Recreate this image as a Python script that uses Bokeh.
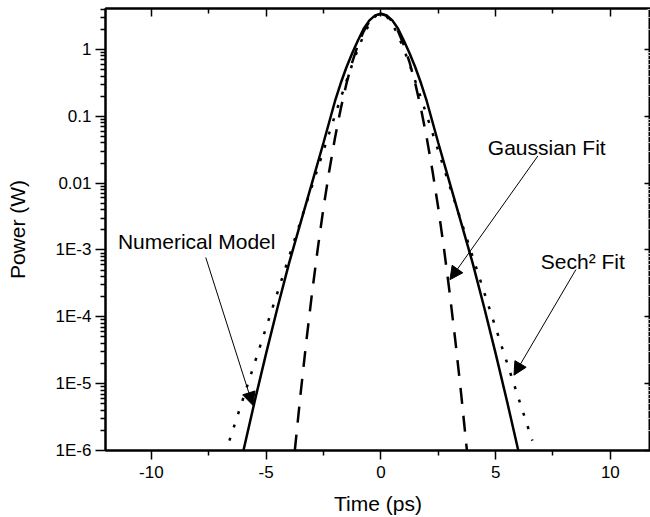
from bokeh.plotting import figure
from bokeh.models import (Range1d, LogAxis, LinearAxis, FixedTicker, CustomJSTickFormatter,
                          Label, Arrow, NormalHead, ColumnDataSource)
from bokeh.embed import file_html
from bokeh.resources import INLINE

# ---- data ----
model_t = [-6.0, -5.5, -5.0, -4.5, -4.0, -3.5, -3.0, -2.5, -2.0, -1.75, -1.5, -1.25, -1.0, -0.75, -0.5, -0.25,
           0.0, 0.25, 0.5, 0.75, 1.0, 1.25, 1.5, 1.75, 2.0, 2.5, 3.0, 3.5, 4.0, 4.5, 5.0, 5.5, 6.0]
model_p = [9.6e-7, 5.42e-6, 2.84e-5, 1.39e-4, 6.37e-4, 2.54e-3, 1.01e-2, 4.02e-2, 0.168, 0.312, 0.542, 0.879,
           1.36, 2.04, 2.72, 3.23, 3.42, 3.23, 2.72, 2.04, 1.36, 0.879, 0.542, 0.312, 0.168, 4.02e-2, 1.01e-2,
           2.54e-3, 6.37e-4, 1.39e-4, 2.84e-5, 5.42e-6, 9.6e-7]

gauss_t = [-3.75, -3.5, -3.25, -3.0, -2.75, -2.5, -2.25, -2.0, -1.75, -1.5, -1.25, -1.0, -0.75, -0.5, -0.25,
           0.0, 0.25, 0.5, 0.75, 1.0, 1.25, 1.5, 1.75, 2.0, 2.25, 2.5, 2.75, 3.0, 3.25, 3.5, 3.75]
gauss_p = [1.00e-6, 6.98e-6, 4.25e-5, 2.26e-4, 1.05e-3, 4.28e-3, 1.52e-2, 4.74e-2, 0.129, 0.308, 0.643, 1.17,
           1.87, 2.62, 3.20, 3.42, 3.20, 2.62, 1.87, 1.17, 0.643, 0.308, 0.129, 4.74e-2, 1.52e-2, 4.28e-3,
           1.05e-3, 2.26e-4, 4.25e-5, 6.98e-6, 1.00e-6]

sech_t = [-6.6, -6.0, -5.5, -5.0, -4.5, -4.0, -3.5, -3.0, -2.5, -2.0, -1.75, -1.5, -1.25, -1.0, -0.75, -0.5, -0.25,
          0.0, 0.25, 0.5, 0.75, 1.0, 1.25, 1.5, 1.75, 2.0, 2.5, 3.0, 3.5, 4.0, 4.5, 5.0, 5.5, 6.0, 6.6]
sech_p = [1.40e-6, 6.04e-6, 2.04e-5, 6.90e-5, 2.34e-4, 7.93e-4, 2.69e-3, 9.04e-3, 3.06e-2, 0.103, 0.187, 0.336,
          0.594, 1.01, 1.63, 2.41, 3.12, 3.42, 3.12, 2.41, 1.63, 1.01, 0.594, 0.336, 0.187, 0.103, 3.06e-2,
          9.04e-3, 2.69e-3, 7.93e-4, 2.34e-4, 6.90e-5, 2.04e-5, 6.04e-6, 1.40e-6]

x_ticks = [-10, -5, 0, 5, 10]
x_minor_ticks = [-7.5, -2.5, 2.5, 7.5]
x_tick_labels = ["-10", "-5", "0", "5", "10"]
y_ticks = [1e-6, 1e-5, 1e-4, 1e-3, 1e-2, 1e-1, 1.0]
y_tick_labels = ["1E-6", "1E-5", "1E-4", "1E-3", "0.01", "0.1", "1"]
y_minor_ticks = [m * d for d in [1e-6, 1e-5, 1e-4, 1e-3, 1e-2, 1e-1] for m in range(2, 10)] + [2.0, 3.0, 4.0]

FONT = "Liberation Sans"

p = figure(width=650, height=517, x_range=Range1d(-12, 11.75), y_range=Range1d(1e-6, 4.1),
           y_axis_type="log", output_backend="svg", toolbar_location=None,
           min_border_left=105, min_border_right=0, min_border_top=8, min_border_bottom=0)
p.outline_line_color = "black"
p.outline_line_width = 2
p.xgrid.visible = False
p.ygrid.visible = False

src_m = ColumnDataSource(dict(t=model_t, p=model_p))
src_g = ColumnDataSource(dict(t=gauss_t, p=gauss_p))
src_s = ColumnDataSource(dict(t=sech_t, p=sech_p))
p.line("t", "p", source=src_s, line_color="black", line_width=2.5, line_dash="3 11")
p.line("t", "p", source=src_g, line_color="black", line_width=2.5, line_dash="16 12")
p.line("t", "p", source=src_m, line_color="black", line_width=2.5)

ylab_fmt = CustomJSTickFormatter(args=dict(tvals=y_ticks, tlabs=y_tick_labels), code="""
const i = tvals.findIndex(t => Math.abs(Math.log10(t) - Math.log10(tick)) < 1e-6);
return i >= 0 ? tlabs[i] : "";
""")
xlab_fmt = CustomJSTickFormatter(args=dict(tvals=x_ticks, tlabs=x_tick_labels), code="""
const i = tvals.findIndex(t => Math.abs(t - tick) < 1e-9);
return i >= 0 ? tlabs[i] : "";
""")

xa = p.xaxis[0]
xa.ticker = FixedTicker(ticks=x_ticks, minor_ticks=x_minor_ticks)
xa.formatter = xlab_fmt
xa.axis_label = "Time (ps)"
ya = p.yaxis[0]
ya.ticker = FixedTicker(ticks=y_ticks, minor_ticks=y_minor_ticks)
ya.formatter = ylab_fmt
ya.axis_label = "Power (W)"

for ax in (xa, ya):
    ax.axis_line_width = 2
    ax.axis_line_color = "black"
    ax.major_tick_line_color = "black"
    ax.minor_tick_line_color = "black"
    ax.major_tick_line_width = 1.5
    ax.minor_tick_line_width = 1.5
    ax.major_tick_in = 0
    ax.minor_tick_in = 0
    ax.minor_tick_out = 5
    ax.major_label_text_font = FONT
    ax.major_label_text_font_size = "17px"
    ax.major_label_text_color = "black"
    ax.axis_label_text_font = FONT
    ax.axis_label_text_font_size = "21px"
    ax.axis_label_text_font_style = "normal"
    ax.axis_label_text_color = "black"
xa.major_tick_out = 9
xa.major_label_standoff = 6
xa.axis_label_standoff = 11
ya.major_tick_out = 10
ya.major_label_standoff = 4
ya.axis_label_standoff = 24

top = LinearAxis(ticker=FixedTicker(ticks=x_ticks, minor_ticks=x_minor_ticks))
top.axis_line_width = 2
top.axis_line_color = "black"
top.major_tick_out = 0
top.major_tick_in = 8
top.minor_tick_out = 0
top.minor_tick_in = 5
top.major_tick_line_color = "black"
top.minor_tick_line_color = "black"
top.major_tick_line_width = 1.5
top.minor_tick_line_width = 1.5
top.major_label_standoff = 0
top.major_label_text_font_size = "1px"
top.major_label_text_alpha = 0
p.add_layout(top, "above")

right = LogAxis(ticker=FixedTicker(ticks=y_ticks, minor_ticks=y_minor_ticks))
right.axis_line_color = "#b0b0b0"
right.axis_line_dash = "1 2"
right.axis_line_width = 1
right.major_tick_out = 0
right.major_tick_in = 6
right.major_tick_line_color = "black"
right.major_tick_line_width = 1.5
right.minor_tick_out = 0
right.minor_tick_in = 3
right.minor_tick_line_color = "#c8c8c8"
right.minor_tick_line_width = 1
right.major_label_standoff = 0
right.major_label_text_font_size = "1px"
right.major_label_text_alpha = 0
p.add_layout(right, "right")

# annotations
for txt, x, y in [("Numerical Model", -11.46, 1.34e-3), ("Gaussian Fit", 4.66, 0.0336), ("Sech\u00b2 Fit", 6.97, 6.71e-4)]:
    p.add_layout(Label(x=x, y=y, text=txt, text_font=FONT, text_font_size="21px",
                       text_color="black", text_baseline="alphabetic", text_align="left"))

for xs, ys, xe, ye in [(-7.63, 7.71e-4, -5.58, 4.75e-6), (6.84, 0.0255, 3.01, 3.6e-4), (8.50, 5.09e-4, 5.80, 1.34e-5)]:
    p.add_layout(Arrow(x_start=xs, y_start=ys, x_end=xe, y_end=ye, line_color="black", line_width=1,
                       end=NormalHead(size=13, fill_color="black", line_color="black", line_width=1)))

open("out.html", "w").write(file_html(p, INLINE))
